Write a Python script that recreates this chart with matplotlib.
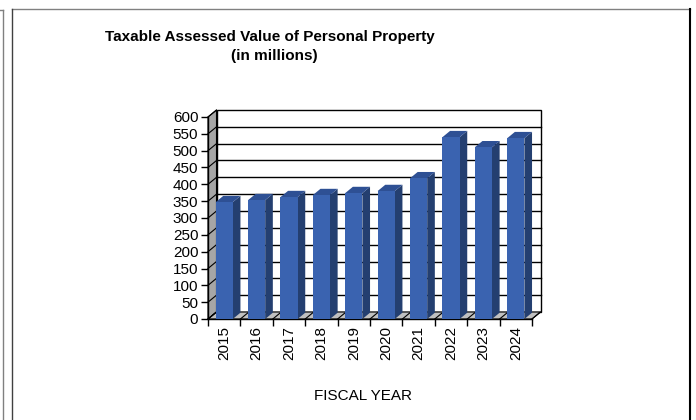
import numpy as np
import matplotlib
matplotlib.use("Agg")
import matplotlib.pyplot as plt
from matplotlib.patches import Polygon, Rectangle
from matplotlib.lines import Line2D

plt.rcParams['font.family'] = ['Liberation Sans', 'DejaVu Sans']

# fiscal years and taxable assessed value of personal property ($ millions)
years = ["2015", "2016", "2017", "2018", "2019", "2020", "2021", "2022", "2023", "2024"]
values = [347, 353, 362, 368, 374, 380, 418, 540, 510, 537]
y_ticks = list(range(0, 601, 50))

W, H = 696, 420
fig = plt.figure(figsize=(W / 100, H / 100), dpi=100)

def px_line(x0, y0, x1, y1, **kw):
    # line in figure pixel coords, y measured from the top
    fig.add_artist(Line2D([x0 / W, x1 / W], [1 - y0 / H, 1 - y1 / H],
                          transform=fig.transFigure, **kw))

# outer frames
px_line(0, 10, 2.5, 10, color="#808080", lw=1)
px_line(2.5, 10, 2.5, 420, color="#808080", lw=1)
px_line(12, 8.5, 690, 8.5, color="#808080", lw=1)
px_line(12, 8.5, 12, 420, color="#404040", lw=1)
px_line(690, 8.5, 690, 420, color="black", lw=1.5)

# front plane of the plot area: x 208..532, y 117..319 (pixels)
ax = fig.add_axes([208 / W, 1 - 319 / H, 324 / W, 202 / H])
n = len(years)
ax.set_xlim(-0.5, n - 0.5)
ax.set_ylim(0, 600)
ax.patch.set_visible(False)
for s in ["top", "right"]:
    ax.spines[s].set_visible(False)
ax.spines["left"].set_linewidth(1)
ax.spines["bottom"].set_linewidth(1)

# depth vector of the 3-D box in data units (about 8 px right, 7 px up)
DX = 8.5 / (324 / n)
DY = 7 / (202 / 600)
x0, x1 = -0.5, n - 0.5

# back wall with gridlines
ax.add_patch(Rectangle((x0 + DX, DY), n, 600, facecolor="white",
                       edgecolor="black", lw=1, clip_on=False, zorder=1))
for v in y_ticks[1:-1]:
    ax.plot([x0 + DX, x1 + DX], [v + DY, v + DY], color="black", lw=1,
            clip_on=False, zorder=1.5)

# side wall
ax.add_patch(Polygon([(x0, 0), (x0, 600), (x0 + DX, 600 + DY), (x0 + DX, DY)],
                     closed=True, facecolor="#A6A6A6", edgecolor="black",
                     lw=0.8, clip_on=False, zorder=2))
for v in y_ticks:
    ax.plot([x0, x0 + DX], [v, v + DY], color="black", lw=0.8,
            clip_on=False, zorder=2.1)

# floor
ax.add_patch(Polygon([(x0, 0), (x1, 0), (x1 + DX, DY), (x0 + DX, DY)],
                     closed=True, facecolor="#C0C0C0", edgecolor="black",
                     lw=0.8, clip_on=False, zorder=2))
for k in range(n + 1):
    ax.plot([k - 0.5, k - 0.5 + DX], [0, DY], color="black", lw=0.8,
            clip_on=False, zorder=2.1)

# bars
bw = 0.53
bdx, bdy = DX * 0.9, DY * 0.9
for i, v in enumerate(values):
    l, r = i - bw / 2, i + bw / 2
    ax.add_patch(Polygon([(r, 0), (r, v), (r + bdx, v + bdy), (r + bdx, bdy)],
                         closed=True, facecolor="#243F70", edgecolor="none",
                         clip_on=False, zorder=3))
    ax.add_patch(Polygon([(l, v), (r, v), (r + bdx, v + bdy), (l + bdx, v + bdy)],
                         closed=True, facecolor="#2E5094", edgecolor="none",
                         clip_on=False, zorder=3))
    ax.add_patch(Rectangle((l, 0), bw, v, facecolor="#3A63B0",
                           edgecolor="none", clip_on=False, zorder=3.5))

# axes ticks and labels
ax.set_yticks(y_ticks)
ax.tick_params(axis="y", direction="out", length=5, width=1, labelsize=11,
               pad=2, colors="black")
ax.set_xticks(np.arange(n + 1) - 0.5)
ax.set_xticklabels([])
ax.tick_params(axis="x", which="major", direction="out", length=5, width=1)
ax.set_xticks(np.arange(n), minor=True)
ax.set_xticklabels(years, minor=True, rotation=90, fontsize=11)
ax.tick_params(axis="x", which="minor", length=0, pad=5)

fig.text(270 / W, 1 - 37 / H, "Taxable Assessed Value of Personal Property",
         ha="center", va="center", fontsize=11, fontweight="bold")
fig.text(274 / W, 1 - 56 / H, "(in millions)", ha="center", va="center",
         fontsize=11, fontweight="bold")
fig.text(363 / W, 1 - 396 / H, "FISCAL YEAR", ha="center", va="center",
         fontsize=11)

fig.savefig("out.png", dpi=100)
